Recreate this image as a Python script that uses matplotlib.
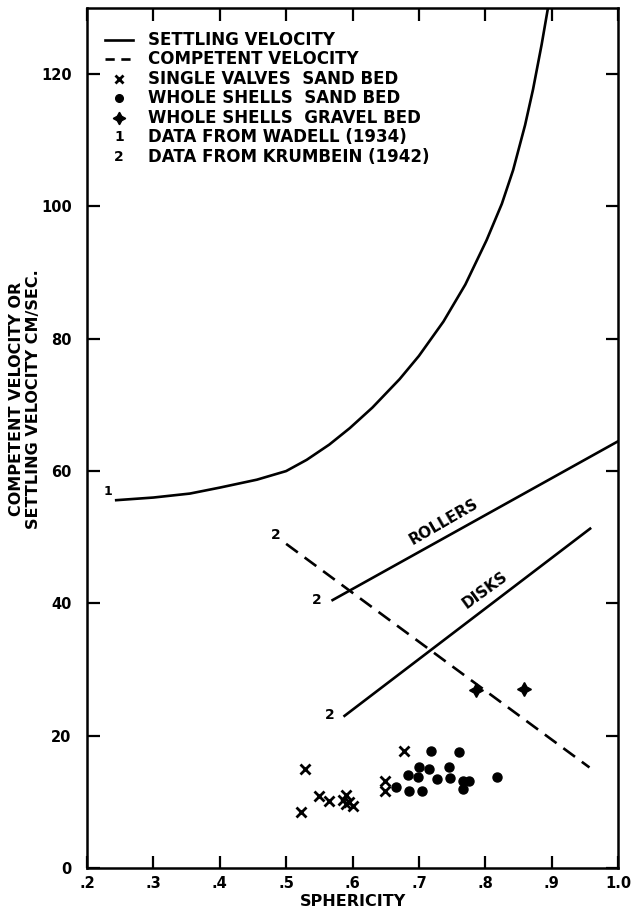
import matplotlib.pyplot as plt

# settling velocity curve (Wadell 1934)
settle_x = [0.244, 0.30, 0.355, 0.40, 0.456, 0.50, 0.531, 0.565, 0.596, 0.63, 0.671, 0.70,
            0.737, 0.77, 0.802, 0.825, 0.842, 0.86, 0.872, 0.885, 0.895]
settle_y = [55.6, 56.0, 56.6, 57.5, 58.7, 60.0, 61.7, 64.0, 66.5, 69.6, 73.9, 77.4,
            82.6, 88.2, 94.9, 100.4, 105.5, 112.3, 117.7, 124.5, 130.3]

# competent velocity (Krumbein 1942)
compet_x = [0.50, 0.957]
compet_y = [49.0, 15.2]
rollers_x = [0.57, 1.0]
rollers_y = [40.5, 64.5]
disks_x = [0.588, 0.958]
disks_y = [23.0, 51.3]

# single valves, sand bed
valve_x = [0.529, 0.523, 0.549, 0.565, 0.590, 0.590, 0.585, 0.601, 0.595, 0.649, 0.649, 0.678]
valve_y = [14.9, 8.5, 10.9, 10.1, 11.0, 9.6, 10.3, 9.4, 10.0, 13.1, 11.7, 17.7]

# whole shells, sand bed
shell_x = [0.718, 0.761, 0.700, 0.716, 0.746, 0.683, 0.698, 0.728, 0.747, 0.767, 0.775,
           0.767, 0.817, 0.666, 0.685, 0.704]
shell_y = [17.7, 17.6, 15.2, 15.0, 15.3, 14.0, 13.8, 13.4, 13.6, 13.2, 13.1,
           11.9, 13.8, 12.3, 11.7, 11.7]

# whole shells, gravel bed
gravel_x = [0.786, 0.859]
gravel_y = [26.9, 27.0]

xticks = [0.2, 0.3, 0.4, 0.5, 0.6, 0.7, 0.8, 0.9, 1.0]
xticklabels = [".2", ".3", ".4", ".5", ".6", ".7", ".8", ".9", "1.0"]
yticks = [0, 20, 40, 60, 80, 100, 120]

legend_labels = [
    "SETTLING VELOCITY",
    "COMPETENT VELOCITY",
    "SINGLE VALVES  SAND BED",
    "WHOLE SHELLS  SAND BED",
    "WHOLE SHELLS  GRAVEL BED",
    "DATA FROM WADELL (1934)",
    "DATA FROM KRUMBEIN (1942)",
]

plt.rcParams["font.family"] = "DejaVu Sans"
plt.rcParams["font.weight"] = "bold"
plt.rcParams["axes.labelweight"] = "bold"

W, H = 632, 913
fig = plt.figure(figsize=(W / 100, H / 100), dpi=100)
ax = fig.add_axes([87 / W, 1 - 868 / H, 531 / W, 860 / H])

lw = 1.9
ax.plot(settle_x, settle_y, color="black", lw=lw, solid_joinstyle="round")
ax.plot(compet_x, compet_y, color="black", lw=lw, dashes=(5.5, 3.2))
ax.plot(rollers_x, rollers_y, color="black", lw=lw)
ax.plot(disks_x, disks_y, color="black", lw=lw)

ax.plot(valve_x, valve_y, ls="none", marker="x", ms=7, mew=2.0, color="black")
ax.plot(shell_x, shell_y, ls="none", marker="o", ms=6.5, color="black")
ax.plot(gravel_x, gravel_y, ls="none", marker=(4, 1, 0), ms=10, color="black")

# source labels
ax.text(0.231, 56.9, "1", fontsize=9, ha="center", va="center")
ax.text(0.485, 50.3, "2", fontsize=10, ha="center", va="center")
ax.text(0.546, 40.5, "2", fontsize=10, ha="center", va="center")
ax.text(0.565, 23.1, "2", fontsize=10, ha="center", va="center")
ax.text(0.738, 52.3, "ROLLERS", fontsize=11, rotation=30, ha="center", va="center",
        rotation_mode="anchor")
ax.text(0.80, 42.0, "DISKS", fontsize=11, rotation=36, ha="center", va="center",
        rotation_mode="anchor")

ax.set_xlim(0.2, 1.0)
ax.set_ylim(0, 130)
ax.set_xticks(xticks)
ax.set_xticklabels(xticklabels)
ax.set_yticks(yticks)
ax.tick_params(direction="in", length=9, width=1.6, top=True, right=True, labelsize=10.5)
ax.tick_params(axis="y", pad=11)
ax.tick_params(axis="x", pad=6)
for s in ax.spines.values():
    s.set_linewidth(1.8)

ax.set_xlabel("SPHERICITY", fontsize=11.5, labelpad=2)
ax.set_ylabel("COMPETENT VELOCITY OR\nSETTLING VELOCITY CM/SEC.", fontsize=11.5,
              linespacing=1.2)
ax.yaxis.set_label_coords(-0.086, 0.545)

# legend, drawn by hand to match the lettering layout
tr = ax.transAxes
def ax_x(px):
    return (px - 87) / 531
def ax_y(py):
    return (868 - py) / 860

for i, lab in enumerate(legend_labels):
    yy = ax_y(40 + 19.45 * i)
    if i == 0:
        ax.plot([ax_x(105), ax_x(133)], [yy, yy], color="black", lw=lw, transform=tr)
    elif i == 1:
        ax.plot([ax_x(105), ax_x(133)], [yy, yy], color="black", lw=lw,
                dashes=(3.5, 2.5), transform=tr)
    elif i == 2:
        ax.plot(ax_x(119), yy, marker="x", ms=6, mew=2, color="black", transform=tr)
    elif i == 3:
        ax.plot(ax_x(119), yy, marker="o", ms=5.5, color="black", transform=tr)
    elif i == 4:
        ax.plot(ax_x(119), yy, marker=(4, 1, 0), ms=9, color="black", transform=tr)
    else:
        ax.text(ax_x(119), yy, str(i - 4), fontsize=10, ha="center", va="center",
                transform=tr)
    ax.text(ax_x(148), yy, lab, fontsize=12, ha="left", va="center", transform=tr)

fig.savefig("out.png", dpi=100)
